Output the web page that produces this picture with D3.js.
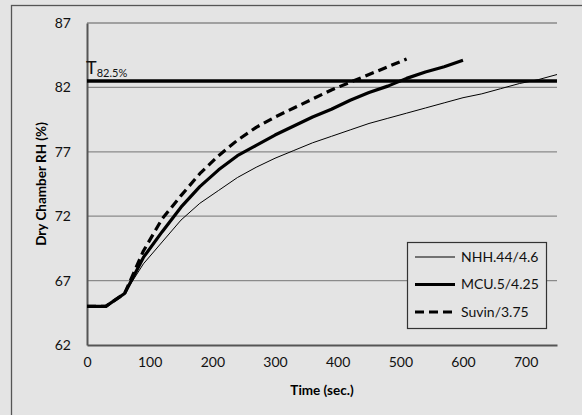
<!DOCTYPE html>
<meta charset="utf-8">
<html>
<head>
<style>
  body { margin: 0; background: #e4e4e4; }
  svg { display: block; font-family: Lato, "Open Sans", sans-serif; }
</style>
<script src="https://d3js.org/d3.v7.min.js"></script>
</head>
<body>
<svg width="582" height="415"></svg>
<script>
// data
var yTicks = [62, 67, 72, 77, 82, 87];
var xTicks = [0, 100, 200, 300, 400, 500, 600, 700];
var threshold = 82.5;

var nhhTime = [0, 30, 60, 90, 120, 150, 180, 210, 240, 270, 300, 330, 360, 390, 420, 450, 480, 510, 540, 570, 600, 630, 660, 690, 720, 750];
var nhhRH   = [65, 65, 66, 68.3, 70.0, 71.7, 73.0, 74.0, 75.0, 75.8, 76.5, 77.1, 77.7, 78.2, 78.7, 79.2, 79.6, 80.0, 80.4, 80.8, 81.2, 81.5, 81.9, 82.3, 82.6, 83.0];

var mcuTime = [0, 30, 60, 90, 120, 150, 180, 210, 240, 270, 300, 330, 360, 390, 420, 450, 480, 510, 540, 570, 600];
var mcuRH   = [65, 65, 66, 68.8, 70.8, 72.7, 74.3, 75.6, 76.7, 77.5, 78.3, 79.0, 79.7, 80.3, 81.0, 81.6, 82.1, 82.7, 83.2, 83.6, 84.1];

var suvinTime = [0, 30, 60, 90, 120, 150, 180, 210, 240, 270, 300, 330, 360, 390, 420, 450, 480, 510];
var suvinRH   = [65, 65, 66, 69.3, 71.8, 73.6, 75.3, 76.7, 77.9, 78.9, 79.7, 80.4, 81.1, 81.8, 82.4, 83.0, 83.6, 84.2];

var seriesNames = ["NHH.44/4.6", "MCU.5/4.25", "Suvin/3.75"];

var svg = d3.select("svg");
var margin = {top: 23, right: 25, bottom: 70, left: 87};
var width = +svg.attr("width") - margin.left - margin.right,
    height = +svg.attr("height") - margin.top - margin.bottom;

// outer chart frame
svg.append("rect")
  .attr("x", 11.5).attr("y", 5.5)
  .attr("width", 600).attr("height", 430)
  .attr("fill", "#e4e4e4")
  .attr("stroke", "#555").attr("stroke-width", 1.3);

var g = svg.append("g").attr("transform", "translate(" + margin.left + "," + margin.top + ")");

var x = d3.scaleLinear().domain([0, 750]).range([0, width]);
var y = d3.scaleLinear().domain([62, 87]).range([height, 0]);

// grid lines
g.selectAll(".grid")
  .data(yTicks.slice(1))
  .enter().append("line")
  .attr("x1", 0).attr("x2", width)
  .attr("y1", function(d) { return y(d); })
  .attr("y2", function(d) { return y(d); })
  .attr("stroke", "#8a8a8a").attr("stroke-width", 1.3);

// y axis
var yAxis = g.append("g")
  .call(d3.axisLeft(y).tickValues(yTicks).tickSize(0).tickPadding(16));
yAxis.select(".domain").attr("stroke", "#555").attr("stroke-width", 2);
yAxis.selectAll("text").attr("font-size", "14px").attr("fill", "#111").attr("font-family", "Lato");

// x axis
var xAxis = g.append("g")
  .attr("transform", "translate(0," + height + ")")
  .call(d3.axisBottom(x).tickValues(xTicks).tickSize(0).tickPadding(12));
xAxis.select(".domain").attr("stroke", "#555").attr("stroke-width", 2.2);
xAxis.selectAll("text").attr("font-size", "14px").attr("fill", "#111").attr("font-family", "Lato");

// axis titles
svg.append("text")
  .attr("transform", "translate(46," + (margin.top + height / 2) + ") rotate(-90)")
  .attr("text-anchor", "middle")
  .attr("font-size", "13.5px").attr("font-weight", "bold").attr("fill", "#000")
  .text("Dry Chamber RH (%)");

svg.append("text")
  .attr("x", margin.left + width / 2).attr("y", 395)
  .attr("text-anchor", "middle")
  .attr("font-size", "13.5px").attr("font-weight", "bold").attr("fill", "#000")
  .text("Time (sec.)");

// threshold
g.append("line")
  .attr("x1", 0).attr("x2", width)
  .attr("y1", y(threshold)).attr("y2", y(threshold))
  .attr("stroke", "#000").attr("stroke-width", 3.5);

var tLabel = g.append("text")
  .attr("x", -1).attr("y", y(threshold) - 7)
  .attr("fill", "#111");
tLabel.append("tspan").attr("font-size", "18px").text("T");
tLabel.append("tspan").attr("font-size", "11px").attr("dy", 3).text(threshold + "%");

// series
var line = d3.line()
  .x(function(d) { return x(d[0]); })
  .y(function(d) { return y(d[1]); });

var series = [
  {name: seriesNames[0], values: d3.zip(nhhTime, nhhRH), width: 1, dash: null},
  {name: seriesNames[1], values: d3.zip(mcuTime, mcuRH), width: 3.2, dash: null},
  {name: seriesNames[2], values: d3.zip(suvinTime, suvinRH), width: 3.2, dash: "9,5"}
];

g.selectAll(".series")
  .data(series)
  .enter().append("path")
  .attr("fill", "none")
  .attr("stroke", "#000")
  .attr("stroke-linejoin", "round")
  .attr("stroke-width", function(d) { return d.width; })
  .attr("stroke-dasharray", function(d) { return d.dash; })
  .attr("d", function(d) { return line(d.values); });

// legend
var legend = svg.append("g").attr("transform", "translate(407,242)");
legend.append("rect")
  .attr("x", 0.5).attr("y", 0.5).attr("width", 139).attr("height", 86)
  .attr("fill", "#e4e4e4").attr("stroke", "#333").attr("stroke-width", 1.2);

var item = legend.selectAll(".item")
  .data(series)
  .enter().append("g")
  .attr("transform", function(d, i) { return "translate(0," + (15 + i * 27.5) + ")"; });

item.append("line")
  .attr("x1", 8).attr("x2", 48)
  .attr("stroke", "#000")
  .attr("stroke-width", function(d) { return d.width; })
  .attr("stroke-dasharray", function(d) { return d.dash; });

item.append("text")
  .attr("x", 54).attr("dy", "0.35em")
  .attr("font-size", "14px").attr("fill", "#111")
  .text(function(d) { return d.name; });
</script>
</body>
</html>
